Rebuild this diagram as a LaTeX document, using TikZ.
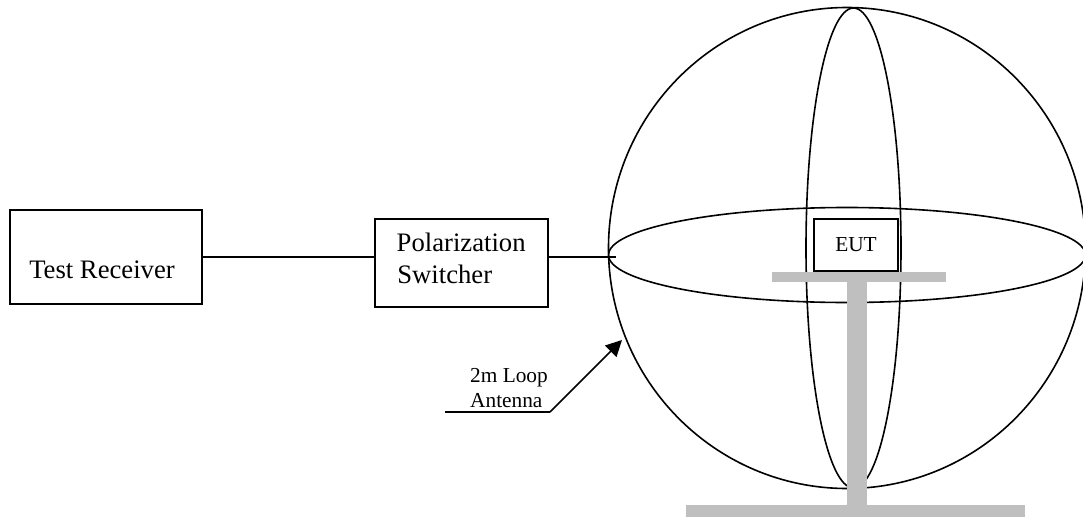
\documentclass[tikz,border=0pt]{standalone}
\usepackage{fontspec}
\setmainfont{Liberation Serif}
\usetikzlibrary{positioning}
\usetikzlibrary{arrows.meta}
\tikzset{box/.style = {draw, line width = 1.2, inner sep = 0, align = left}}
\tikzset{wire/.style = {draw, line width = 1.2}}
\tikzset{stand/.style = {fill = black!25, inner sep = 0}}
\begin{document}
\begin{tikzpicture}[x=0.75pt, y=-0.75pt]
      \useasboundingbox (0, 0) rectangle (1083, 518);

      % sphere
      \coordinate (sphere) at (847, 248);
      \draw [wire] (sphere) ellipse [x radius = 238.5, y radius = 240.5];
      \draw [wire] (847, 255) ellipse [x radius = 238.5, y radius = 47.5];
      \draw [wire] (853.5, 248) ellipse [x radius = 47.5, y radius = 240];

      % table and base
      \node [stand, minimum width = 174*0.75pt, minimum height = 10*0.75pt] (top) at (859, 277) {};
      \node [stand, minimum width = 20*0.75pt, minimum height = 224*0.75pt] (post) at (857, 394) {};
      \node [stand, minimum width = 339*0.75pt, minimum height = 12*0.75pt] (base) at (855.5, 511) {};

      % boxes
      \node [box, minimum width = 192*0.75pt, minimum height = 94*0.75pt, font = \fontsize{20}{24}\selectfont,
             label = {[font = \fontsize{20}{24}\selectfont, xshift = -3pt, yshift = -9.75pt]center:Test Receiver}] (receiver) at (106, 257) {};
      \node [box, minimum width = 173*0.75pt, minimum height = 88*0.75pt, font = \fontsize{20}{24}\selectfont, text depth = 7.5pt] (switcher) at (461.5, 263) {\hspace{-0.5pt}Polarization\\Switcher};
      \node [box, minimum width = 84*0.75pt, minimum height = 52*0.75pt, font = \fontsize{16}{18}\selectfont] (eut) at (856, 245) {EUT};

      \coordinate (feed) at (616, 257);
      \draw [wire] (receiver) -- (switcher.west |- receiver);
      \draw [wire] (switcher.east |- feed) -- (feed);

      % antenna label
      \node [font = \fontsize{16}{19}\selectfont, align = left] (antenna) at (509, 388) {2m Loop\\Antenna};
      \coordinate (under) at (445, 412);
      \coordinate (bend) at (550, 412);
      \coordinate (tip) at (622, 340);
      \draw [wire] (under) -- (bend);
      \draw [wire, -{Triangle[length = 12pt, width = 12pt]}] (bend) -- (tip);
    \end{tikzpicture}
\end{document}
